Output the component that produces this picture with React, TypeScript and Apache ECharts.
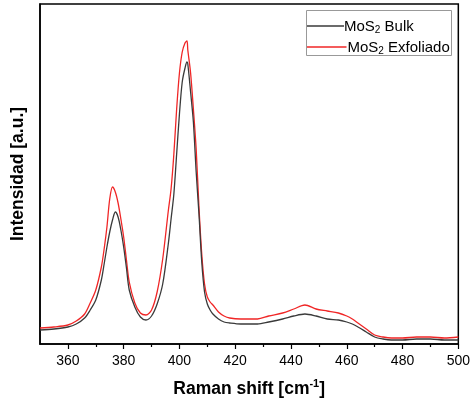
import React, { useEffect, useRef } from "react";
import * as echarts from "echarts";

const wavenumbers = [350, 355, 360, 363, 366, 368, 370, 372, 373, 374, 375, 376, 377, 378, 379, 380, 381, 382, 384, 386, 388, 390, 392, 394, 396, 397, 398, 399, 400, 401, 402, 402.7, 403, 404, 405, 406, 407, 408, 409, 410, 411, 412, 414, 416, 418, 422, 428, 432, 437, 441, 445, 449, 453, 457, 460, 462, 464, 467, 470, 473, 476, 480, 485, 490, 495, 500];

const bulk = [14, 15, 17, 20, 26, 34, 44, 64, 80, 97, 112, 124, 132, 127, 114, 97, 76, 54, 37, 27, 24, 28, 40, 60, 100, 125, 150, 190, 230, 262, 276, 282, 280, 252, 222, 172, 130, 82, 52, 40, 34, 30, 25, 22, 21, 20, 20, 22, 25, 28, 30, 28, 25, 24, 22, 20, 17, 12, 7, 5, 4, 4, 5, 5, 4, 4];

const exfoliado = [16, 17, 19, 23, 30, 41, 54, 77, 95, 117, 145, 157, 152, 141, 125, 107, 84, 62, 41, 31, 29, 34, 52, 85, 133, 155, 190, 235, 271, 292, 301, 303, 294, 271, 235, 195, 137, 90, 60, 47, 42, 39, 32, 28, 26, 25, 25, 28, 31, 35, 39, 35, 33, 31, 28, 25, 21, 15, 9, 7, 6, 6, 7, 7, 6, 7];

const majorTicks = [360, 380, 400, 420, 440, 460, 480, 500];
const minorTicks = [370, 390, 410, 430, 450, 470, 490];

const seriesNames = ["MoS₂ Bulk", "MoS₂ Exfoliado"];

const FONT = "'Liberation Sans', Arial, sans-serif";

export default function App() {
  const ref = useRef<HTMLDivElement>(null);
  useEffect(() => {
    if (!ref.current) return;
    const chart = echarts.init(ref.current, null, { renderer: "svg" });
    const toPairs = (ys: number[]) => wavenumbers.map((x, i) => [x, ys[i]]);
    const subText = (name: string) => {
      const [a, b] = name.split("₂");
      return `{a|${a}}{s|2}{a|${b}}`;
    };
    const rich = {
      a: { fontSize: 15, fontFamily: FONT, color: "#000", lineHeight: 18 },
      s: { fontSize: 10, fontFamily: FONT, color: "#000", lineHeight: 11, verticalAlign: "bottom" },
    };
    chart.setOption({
      animation: false,
      grid: {
        left: 40,
        right: 12,
        top: 4,
        bottom: 62,
        show: true,
        borderColor: "#000",
        borderWidth: 1.5,
        backgroundColor: "#fff",
      },
      xAxis: [
        {
          type: "value",
          min: 350,
          max: 500,
          position: "bottom",
          axisLine: { show: true, onZero: false, lineStyle: { color: "#000", width: 1.5 } },
          axisTick: { show: true, length: 5, customValues: majorTicks, lineStyle: { color: "#000", width: 1.2 } },
          axisLabel: {
            customValues: majorTicks,
            fontSize: 14,
            fontFamily: FONT,
            color: "#000",
            margin: 9,
          },
          splitLine: { show: false },
          name: "{a|Raman shift [cm}{s|-1}{a|]}",
          nameLocation: "middle",
          nameGap: 33,
          nameTextStyle: {
            rich: {
              a: { fontSize: 17.5, fontWeight: "bold", fontFamily: FONT, color: "#000", lineHeight: 22 },
              s: { fontSize: 11, fontWeight: "bold", fontFamily: FONT, color: "#000", lineHeight: 12, verticalAlign: "top" },
            },
          },
        },
        {
          type: "value",
          min: 350,
          max: 500,
          position: "bottom",
          axisLine: { show: false, onZero: false },
          axisTick: { show: true, length: 3, customValues: minorTicks, lineStyle: { color: "#000", width: 1.2 } },
          axisLabel: { show: false },
          splitLine: { show: false },
        },
      ],
      yAxis: {
        type: "value",
        min: 0,
        max: 340,
        axisLine: { show: true, onZero: false, lineStyle: { color: "#000", width: 1.5 } },
        axisTick: { show: false },
        axisLabel: { show: false },
        splitLine: { show: false },
        name: "Intensidad [a.u.]",
        nameLocation: "middle",
        nameGap: 14,
        nameTextStyle: { fontSize: 17.5, fontWeight: "bold", fontFamily: FONT, color: "#000" },
      },
      series: [
        {
          name: seriesNames[0],
          type: "line",
          xAxisIndex: 0,
          data: toPairs(bulk),
          showSymbol: false,
          smooth: 0.3,
          lineStyle: { color: "#3a3a3a", width: 1.3 },
          z: 3,
        },
        {
          name: seriesNames[1],
          type: "line",
          xAxisIndex: 0,
          data: toPairs(exfoliado),
          showSymbol: false,
          smooth: 0.3,
          lineStyle: { color: "#f02626", width: 1.3 },
          z: 2,
        },
      ],
      graphic: [
        {
          type: "rect",
          shape: { x: 306.5, y: 10.5, width: 145, height: 45 },
          style: { fill: "#fff", stroke: "#999", lineWidth: 1 },
          z: 10,
        },
        {
          type: "line",
          shape: { x1: 307, y1: 26, x2: 344, y2: 26 },
          style: { stroke: "#3a3a3a", lineWidth: 1.3 },
          z: 11,
        },
        {
          type: "text",
          x: 344,
          y: 25,
          style: { text: subText(seriesNames[0]), rich, verticalAlign: "middle", align: "left" },
          z: 11,
        },
        {
          type: "line",
          shape: { x1: 307, y1: 47, x2: 346.5, y2: 47 },
          style: { stroke: "#f02626", lineWidth: 1.3 },
          z: 11,
        },
        {
          type: "text",
          x: 347.5,
          y: 46,
          style: { text: subText(seriesNames[1]), rich, verticalAlign: "middle", align: "left" },
          z: 11,
        },
      ],
    });
    return () => chart.dispose();
  }, []);
  return <div ref={ref} style={{ position: "fixed", left: 0, top: 0, width: 473, height: 406 }} />;
}
